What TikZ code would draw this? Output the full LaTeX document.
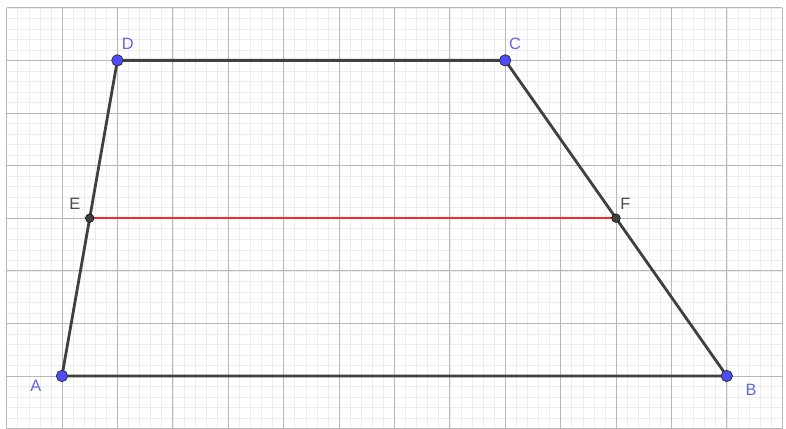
\documentclass[tikz,border=0pt]{standalone}
\usepackage{fontspec}
\setmainfont{Liberation Sans}
\definecolor{ptblue}{HTML}{4D4DFF}
\definecolor{lblblue}{HTML}{6666DD}
\definecolor{sidegray}{HTML}{404040}
\begin{document}
\begin{tikzpicture}[x=1.662cm,y=1.578cm,
  minor/.style={line width=0.4pt,black!7},
  major/.style={line width=0.7pt,black!28},
  side/.style={line width=2.4pt,sidegray},
  lbl/.style={font=\fontsize{14}{16}\selectfont,text=lblblue},
  pt/.style={fill=ptblue,draw=black!80,line width=0.7pt}]
  \useasboundingbox (-1.119,-1.008) rectangle (13.069,7.148);
  \foreach \i in {-5,...,65} {
    \draw[minor] (\i/5,-1) -- (\i/5,7);
  }
  \foreach \j in {-5,...,35} {
    \draw[minor] (-1,\j/5) -- (13,\j/5);
  }
  \foreach \i in {-1,...,13} {
    \draw[major] (\i,-1) -- (\i,7);
  }
  \foreach \j in {-1,...,7} {
    \draw[major] (-1,\j) -- (13,\j);
  }
  \coordinate (A) at (0,0);
  \coordinate (B) at (12,0);
  \coordinate (C) at (8,6);
  \coordinate (D) at (1,6);
  \coordinate (E) at (0.5,3);
  \coordinate (F) at (10,3);
  \draw[side] (A) -- (B) -- (C) -- (D) -- cycle;
  \draw[line width=2pt,red!85!white] (E) -- (F);
  \foreach \p in {A,B,C,D} {
    \filldraw[pt] (\p) circle (0.17cm);
  }
  \foreach \p in {E,F} {
    \filldraw[fill=black!75,draw=black] (\p) circle (0.13cm);
  }
  \node[lbl] (lA) at (-0.47,-0.19) {A};
  \node[lbl] (lB) at (12.44,-0.27) {B};
  \node[lbl] (lC) at (8.18,6.31) {C};
  \node[lbl] (lD) at (1.19,6.31) {D};
  \node[lbl,text=black!70] (lE) at (0.23,3.28) {E};
  \node[lbl,text=black!70] (lF) at (10.17,3.28) {F};
\end{tikzpicture}
\end{document}
